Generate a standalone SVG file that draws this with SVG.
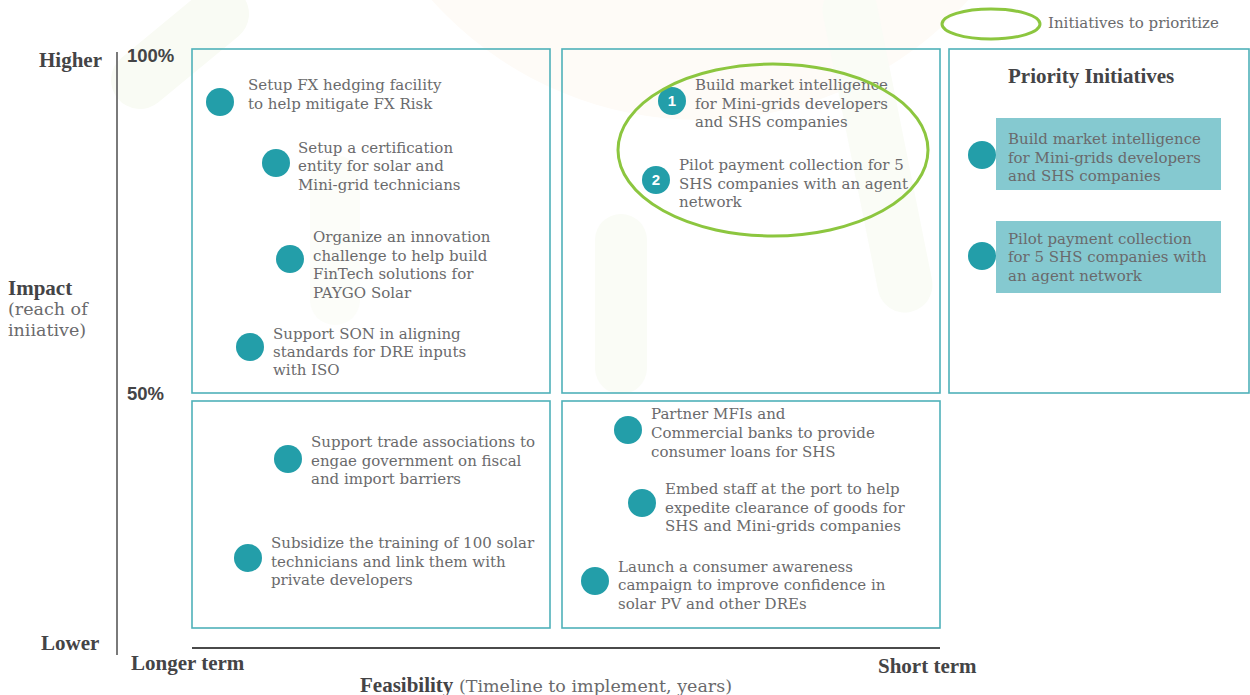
<svg xmlns="http://www.w3.org/2000/svg" width="1250" height="695" viewBox="0 0 1250 695">
  <style>
    .item { font-family: "DejaVu Serif", "Liberation Serif", serif; font-size: 15px; fill: #6a6a6c; }
    .lbl { font-family: "Liberation Serif", "DejaVu Serif", serif; font-size: 21px; font-weight: bold; fill: #444446; }
    .lblr { font-family: "DejaVu Serif", "Liberation Serif", serif; font-size: 17.5px; fill: #6a6a6c; }
    .pct { font-family: "Liberation Sans", "DejaVu Sans", sans-serif; font-size: 18.5px; font-weight: bold; fill: #444446; }
    .quad { fill: none; stroke: #4fb1b9; stroke-width: 1.6; }
    .dot { fill: #239ea9; }
    .num { font-family: "Liberation Sans", "DejaVu Sans", sans-serif; font-size: 15px; font-weight: bold; fill: #ffffff; text-anchor: middle; }
    .prio { fill: #85c9d0; }
    .ring { fill: none; stroke: #8cc63f; stroke-width: 3; }
    .wm { fill: none; stroke-linecap: round; }
  </style>

  <rect width="1250" height="695" fill="#ffffff"/>

  <!-- faint background watermark -->
  <g id="watermark">
    <circle cx="700" cy="-240" r="360" fill="#fefbf7"/>
    <path class="wm" d="M140 80 L220 14" stroke="#f9fbf4" stroke-width="58"/>
    <path class="wm" d="M850 10 L905 285" stroke="#fafcf6" stroke-width="55"/>
    <path class="wm" d="M621 240 L621 368" stroke="#fafcf6" stroke-width="52"/>
    <path class="wm" d="M335 180 L335 300" stroke="#fcfdf9" stroke-width="50"/>
  </g>

  <!-- axes -->
  <g id="axes">
    <line x1="117" y1="52" x2="117" y2="655" stroke="#7a7a7a" stroke-width="2"/>
    <line x1="192" y1="648" x2="940" y2="648" stroke="#4a4a4a" stroke-width="2"/>
    <text class="lbl" x="39" y="67">Higher</text>
    <text class="pct" x="127" y="62">100%</text>
    <text class="pct" x="127" y="400">50%</text>
    <text class="lbl" x="41" y="650">Lower</text>
    <text class="lbl" x="8" y="295">Impact</text>
    <text class="lblr" x="8" y="315">(reach of</text>
    <text class="lblr" x="8" y="336">iniiative)</text>
    <text class="lbl" x="131" y="670">Longer term</text>
    <text class="lbl" x="878" y="673">Short term</text>
    <text x="360" y="692"><tspan class="lbl">Feasibility</tspan><tspan class="lblr"> (Timeline to implement, years)</tspan></text>
  </g>

  <!-- legend -->
  <g id="legend">
    <ellipse class="ring" cx="991" cy="24" rx="49" ry="15"/>
    <text class="item" x="1048" y="28">Initiatives to prioritize</text>
  </g>

  <!-- quadrant frames -->
  <g id="quadrants">
    <rect class="quad" x="192" y="49" width="358" height="344"/>
    <rect class="quad" x="562" y="49" width="378" height="344"/>
    <rect class="quad" x="949" y="49" width="300" height="344"/>
    <rect class="quad" x="192" y="401" width="358" height="227"/>
    <rect class="quad" x="562" y="401" width="378" height="227"/>
  </g>

  <!-- high impact, longer term -->
  <g id="fx-hedging">
    <circle class="dot" cx="220" cy="102" r="14"/>
    <text class="item" x="248" y="90">Setup FX hedging facility</text>
    <text class="item" x="248" y="109">to help mitigate FX Risk</text>
  </g>
  <g id="certification">
    <circle class="dot" cx="276" cy="163" r="14"/>
    <text class="item" x="298" y="153">Setup a certification</text>
    <text class="item" x="298" y="171">entity for solar and</text>
    <text class="item" x="298" y="190">Mini-grid technicians</text>
  </g>
  <g id="innovation-challenge">
    <circle class="dot" cx="290" cy="259" r="14"/>
    <text class="item" x="313" y="242">Organize an innovation</text>
    <text class="item" x="313" y="261">challenge to help build</text>
    <text class="item" x="313" y="279">FinTech solutions for</text>
    <text class="item" x="313" y="298">PAYGO Solar</text>
  </g>
  <g id="son-standards">
    <circle class="dot" cx="250" cy="347" r="14"/>
    <text class="item" x="273" y="339">Support SON in aligning</text>
    <text class="item" x="273" y="357">standards for DRE inputs</text>
    <text class="item" x="273" y="375">with ISO</text>
  </g>

  <!-- high impact, short term -->
  <g id="market-intelligence">
    <circle class="dot" cx="672" cy="101" r="14"/>
    <text class="num" x="672" y="106">1</text>
    <text class="item" x="695" y="90">Build market intelligence</text>
    <text class="item" x="695" y="109">for Mini-grids developers</text>
    <text class="item" x="695" y="127">and SHS companies</text>
  </g>
  <g id="payment-collection">
    <circle class="dot" cx="656" cy="180" r="14"/>
    <text class="num" x="656" y="185">2</text>
    <text class="item" x="679" y="170">Pilot payment collection for 5</text>
    <text class="item" x="679" y="189">SHS companies with an agent</text>
    <text class="item" x="679" y="207">network</text>
  </g>
  <g id="prioritized">
    <ellipse class="ring" cx="773" cy="150" rx="155" ry="86"/>
  </g>

  <!-- priority initiatives -->
  <g id="priority-title">
    <text class="lbl" x="1008" y="83">Priority Initiatives</text>
  </g>
  <g id="priority-1">
    <rect class="prio" x="996" y="118" width="225" height="72"/>
    <circle class="dot" cx="982" cy="155" r="14"/>
    <text class="item" x="1008" y="144">Build market intelligence</text>
    <text class="item" x="1008" y="163">for Mini-grids developers</text>
    <text class="item" x="1008" y="181">and SHS companies</text>
  </g>
  <g id="priority-2">
    <rect class="prio" x="996" y="221" width="225" height="72"/>
    <circle class="dot" cx="982" cy="256" r="14"/>
    <text class="item" x="1008" y="244">Pilot payment collection</text>
    <text class="item" x="1008" y="262">for 5 SHS companies with</text>
    <text class="item" x="1008" y="281">an agent network</text>
  </g>

  <!-- lower impact, longer term -->
  <g id="trade-associations">
    <circle class="dot" cx="288" cy="459" r="14"/>
    <text class="item" x="311" y="447">Support trade associations to</text>
    <text class="item" x="311" y="466">engae government on fiscal</text>
    <text class="item" x="311" y="484">and import barriers</text>
  </g>
  <g id="technician-training">
    <circle class="dot" cx="248" cy="558" r="14"/>
    <text class="item" x="271" y="548">Subsidize the training of 100 solar</text>
    <text class="item" x="271" y="567">technicians and link them with</text>
    <text class="item" x="271" y="585">private developers</text>
  </g>

  <!-- lower impact, short term -->
  <g id="consumer-loans">
    <circle class="dot" cx="628" cy="430" r="14"/>
    <text class="item" x="651" y="419">Partner MFIs and</text>
    <text class="item" x="651" y="438">Commercial banks to provide</text>
    <text class="item" x="651" y="457">consumer loans for SHS</text>
  </g>
  <g id="port-staff">
    <circle class="dot" cx="642" cy="503" r="14"/>
    <text class="item" x="665" y="494">Embed staff at the port to help</text>
    <text class="item" x="665" y="513">expedite clearance of goods for</text>
    <text class="item" x="665" y="531">SHS and Mini-grids companies</text>
  </g>
  <g id="awareness-campaign">
    <circle class="dot" cx="595" cy="581" r="14"/>
    <text class="item" x="618" y="572">Launch a consumer awareness</text>
    <text class="item" x="618" y="590">campaign to improve confidence in</text>
    <text class="item" x="618" y="609">solar PV and other DREs</text>
  </g>
</svg>
